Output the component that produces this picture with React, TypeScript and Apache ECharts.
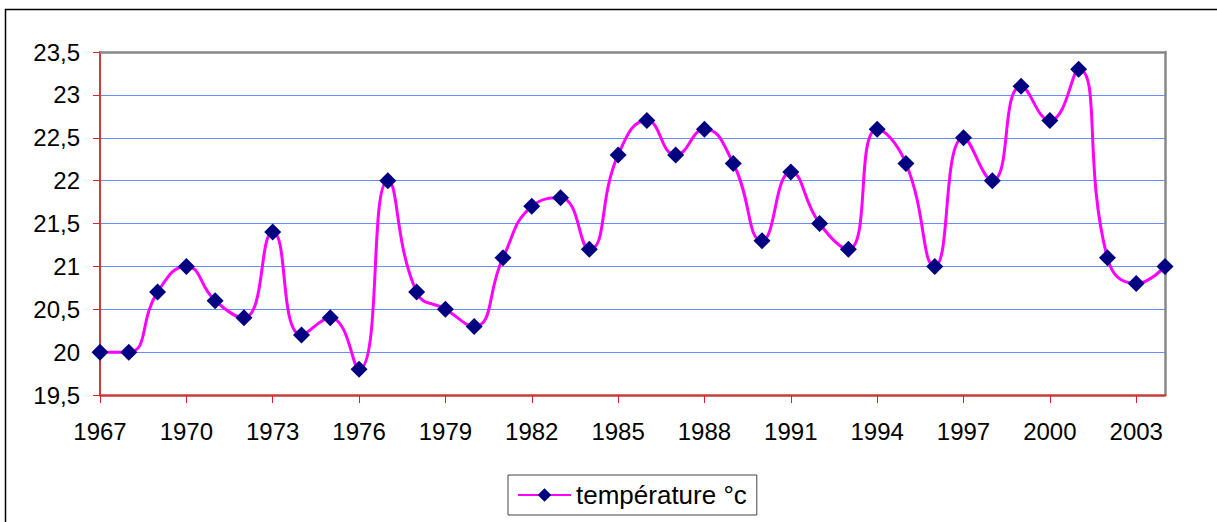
import React, { useEffect, useRef } from "react";
import * as echarts from "echarts";

const years: string[] = [
  "1967","1968","1969","1970","1971","1972","1973","1974","1975","1976",
  "1977","1978","1979","1980","1981","1982","1983","1984","1985","1986",
  "1987","1988","1989","1990","1991","1992","1993","1994","1995","1996",
  "1997","1998","1999","2000","2001","2002","2003","2004",
];
const temperature: number[] = [
  20.0, 20.0, 20.7, 21.0, 20.6, 20.4, 21.4, 20.2, 20.4, 19.8,
  22.0, 20.7, 20.5, 20.3, 21.1, 21.7, 21.8, 21.2, 22.3, 22.7,
  22.3, 22.6, 22.2, 21.3, 22.1, 21.5, 21.2, 22.6, 22.2, 21.0,
  22.5, 22.0, 23.1, 22.7, 23.3, 21.1, 20.8, 21.0,
];
const seriesName = "température °c";
const yMin = 19.5;
const yMax = 23.5;
const yStep = 0.5;

export default function App() {
  const ref = useRef<HTMLDivElement>(null);
  useEffect(() => {
    if (!ref.current) return;
    const chart = echarts.init(ref.current, undefined, { renderer: "svg" });
    const font = "'Liberation Sans', Arial, sans-serif";
    chart.setOption({
      animation: false,
      backgroundColor: "#ffffff",
      textStyle: { fontFamily: font },
      graphic: [
        {
          type: "rect",
          shape: { x: 5.5, y: 9.5, width: 1400, height: 700 },
          style: { fill: "none", stroke: "#000000", lineWidth: 1.5 },
          silent: true,
          z: -10,
        },
      ],
      grid: {
        left: 100,
        top: 52,
        right: 52,
        bottom: 127,
        show: false,
      },
      legend: {
        show: true,
        left: 508,
        top: 475,
        padding: [7, 10, 7, 9],
        borderColor: "#444444",
        borderWidth: 1,
        borderRadius: 0,
        itemWidth: 53,
        itemHeight: 17,
        textStyle: { fontSize: 26, color: "#000000", fontFamily: font },
        data: [seriesName],
      },
      xAxis: [
        {
          type: "category",
          data: years,
          boundaryGap: false,
          axisLine: { show: true, onZero: false, lineStyle: { color: "#c83c3c", width: 2.5 } },
          axisTick: { show: true, interval: 2, length: 8, lineStyle: { color: "#e02020", width: 1 } },
          axisLabel: { interval: 2, margin: 24, fontSize: 24, color: "#000000", fontFamily: font },
          splitLine: { show: false },
          z: 3,
        },
        {
          type: "category",
          data: years,
          boundaryGap: false,
          position: "top",
          axisLine: { show: true, onZero: false, lineStyle: { color: "#888888", width: 2.5 } },
          axisTick: { show: false },
          axisLabel: { show: false },
          splitLine: { show: false },
          z: 3,
        },
      ],
      yAxis: [
        {
          type: "value",
          min: yMin,
          max: yMax,
          interval: yStep,
          axisLine: { show: true, lineStyle: { color: "#c83c3c", width: 2 } },
          axisTick: { show: true, length: 7, lineStyle: { color: "#e02020", width: 1 } },
          axisLabel: {
            margin: 20,
            fontSize: 24,
            color: "#000000",
            fontFamily: font,
            formatter: (v: number) => String(v).replace(".", ","),
          },
          splitLine: { show: true, lineStyle: { color: "#6a8cff", width: 1.2 } },
          z: 3,
        },
        {
          type: "value",
          min: yMin,
          max: yMax,
          interval: yStep,
          position: "right",
          axisLine: { show: true, onZero: false, lineStyle: { color: "#888888", width: 2.5 } },
          axisTick: { show: false },
          axisLabel: { show: false },
          splitLine: { show: false },
          z: 3,
        },
      ],
      series: [
        {
          name: seriesName,
          type: "line",
          data: temperature,
          smooth: 0.5,
          symbol: "diamond",
          symbolSize: 17,
          showAllSymbol: true,
          lineStyle: { color: "#ff00ff", width: 3 },
          itemStyle: { color: "#000080", borderWidth: 0 },
          z: 5,
        },
      ],
    });
    return () => chart.dispose();
  }, []);
  return (
    <div
      ref={ref}
      style={{ position: "fixed", left: 0, top: 0, width: 1217, height: 522 }}
    />
  );
}
